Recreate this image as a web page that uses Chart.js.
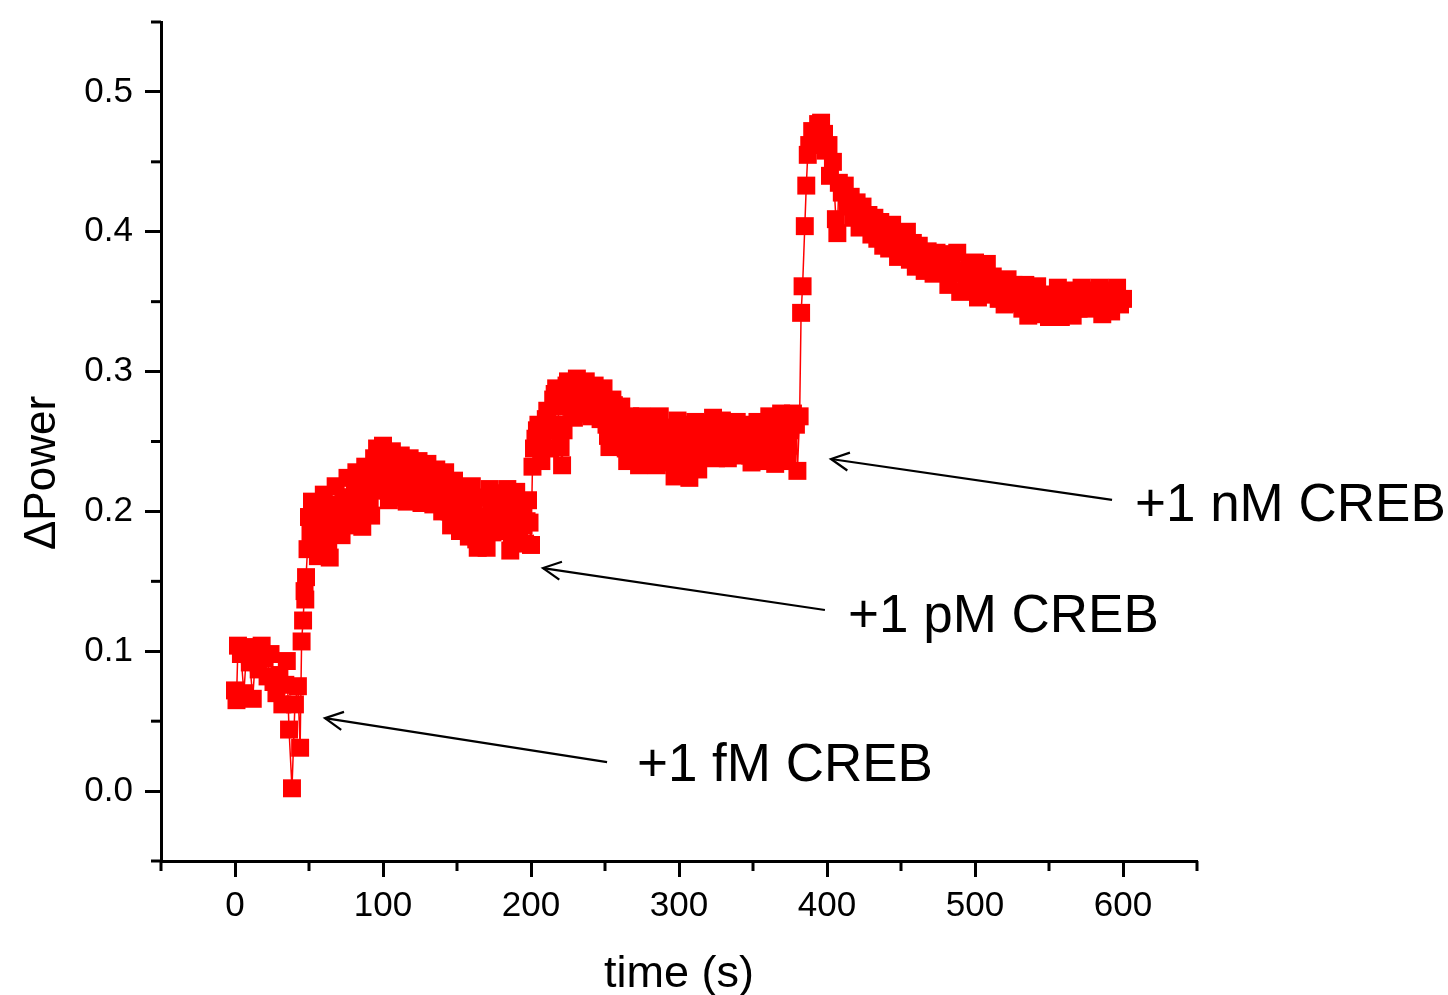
<!DOCTYPE html>
<html>
<head>
<meta charset="utf-8">
<script src="https://cdn.jsdelivr.net/npm/chart.js@4.4.1/dist/chart.umd.min.js"></script>
<style>
  html, body { margin: 0; padding: 0; background: #fff; overflow: hidden; }
  #wrap { width: 1448px; height: 1010px; }
</style>
</head>
<body>
<div id="wrap"><canvas id="powerChart" width="1448" height="1010"></canvas></div>
<script>
// data: time (s) vs ΔPower
const baseTime = [0, 1, 2, 4, 6, 8, 10, 12, 14, 16, 18, 20, 22, 24, 26, 28, 30, 32, 34, 35, 36.5, 38.5, 40.5, 42.5, 44]
const basePower = [0.072, 0.065, 0.104, 0.098, 0.070, 0.103, 0.092, 0.066, 0.100, 0.087, 0.104, 0.095, 0.082, 0.098, 0.078, 0.070, 0.083, 0.062, 0.076, 0.093, 0.044, 0.002, 0.062, 0.075, 0.031]

const fmTime = [45, 46, 47, 47.5, 48, 49, 50, 51, 52, 53, 54, 55, 56, 57, 58, 59, 60, 61, 62, 63, 64, 65, 66, 67, 68, 69, 70,
  71, 72, 73, 74, 75, 76, 77, 78, 79, 80, 81, 82, 83, 84, 85, 86, 87, 88, 89, 90, 91, 92, 93, 94, 95, 96, 97, 98, 99, 100,
  101, 102, 103, 104, 105, 106, 107, 108, 109, 110, 111, 112, 113, 114, 115, 116, 117, 118, 119, 120, 121, 122, 123, 124, 125,
  126, 127, 128, 129, 130, 131, 132, 133, 134, 135, 136, 137, 138, 139, 140, 141, 142, 143, 144, 145, 146, 147, 148, 149, 150,
  151, 152, 153, 154, 155, 156, 157, 158, 159, 160, 161, 162, 163, 164, 165, 166, 167, 168, 169, 170, 171, 172, 173, 174, 175,
  176, 177, 178, 179, 180, 181, 182, 183, 184, 185, 186, 187, 188, 189, 190, 191, 192, 193, 194, 195, 196, 197, 198, 199, 200]
const fmPower = [0.107, 0.122, 0.143, 0.137, 0.153, 0.173, 0.196, 0.185, 0.207, 0.198, 0.190, 0.180, 0.168, 0.192, 0.200, 0.188, 0.212, 0.198, 0.186, 0.178, 0.167, 0.190, 0.205, 0.196, 0.218, 0.204, 0.195,
  0.188, 0.183, 0.200, 0.210, 0.202, 0.224, 0.210, 0.190, 0.198, 0.205, 0.215, 0.228, 0.220, 0.215, 0.200, 0.189, 0.212, 0.232, 0.226, 0.222, 0.208, 0.197, 0.220, 0.238, 0.232, 0.245, 0.228, 0.215, 0.232, 0.247,
  0.236, 0.225, 0.215, 0.208, 0.228, 0.243, 0.236, 0.232, 0.220, 0.210, 0.226, 0.240, 0.230, 0.222, 0.212, 0.207, 0.224, 0.238, 0.232, 0.228, 0.220, 0.215, 0.226, 0.236, 0.220,
  0.206, 0.216, 0.225, 0.230, 0.234, 0.222, 0.212, 0.208, 0.205, 0.218, 0.230, 0.224, 0.218, 0.208, 0.200, 0.215, 0.228, 0.218, 0.210, 0.200, 0.190, 0.208, 0.222, 0.216, 0.212,
  0.198, 0.186, 0.200, 0.215, 0.202, 0.190, 0.186, 0.182, 0.200, 0.218, 0.204, 0.190, 0.180, 0.174, 0.192, 0.210, 0.195, 0.180, 0.177, 0.174, 0.196, 0.216, 0.200, 0.185, 0.195,
  0.205, 0.210, 0.213, 0.198, 0.186, 0.192, 0.200, 0.208, 0.216, 0.194, 0.172, 0.184, 0.195, 0.205, 0.214, 0.200, 0.185, 0.195, 0.205, 0.190, 0.177, 0.193, 0.208, 0.192, 0.176]

const pmTime = [201, 202, 203, 204, 205, 206, 207, 208, 209, 210, 211, 212, 213, 214, 215, 216, 217, 218, 219, 220, 221, 222, 223, 224, 225,
  226, 227, 228, 229, 230, 231, 232, 233, 234, 235, 236, 237, 238, 239, 240, 241, 242, 243, 244, 245, 246, 247, 248, 249, 250,
  251, 252, 253, 254, 255, 256, 257, 258, 259, 260, 261, 262, 263, 264, 265, 266, 267, 268, 269, 270, 271, 272, 273, 274, 275,
  276, 277, 278, 279, 280, 281, 282, 283, 284, 285, 286, 287, 288, 289, 290, 291, 292, 293, 294, 295, 296, 297, 298, 299, 300,
  301, 302, 303, 304, 305, 306, 307, 308, 309, 310, 311, 312, 313, 314, 315, 316, 317, 318, 319, 320, 321, 322, 323, 324, 325,
  326, 327, 328, 329, 330, 331, 332, 333, 334, 335, 336, 337, 338, 339, 340, 341, 342, 343, 344, 345, 346, 347, 348, 349, 350,
  351, 352, 353, 354, 355, 356, 357, 358, 359, 360, 361, 362, 363, 364, 365, 366, 367, 368, 369, 370, 371, 372, 373, 374, 375,
  376, 377, 378, 379, 380, 381.5]
const pmPower = [0.232, 0.245, 0.252, 0.258, 0.262, 0.250, 0.236, 0.246, 0.258, 0.266, 0.272, 0.258, 0.245, 0.262, 0.280, 0.284, 0.288, 0.275, 0.262, 0.246, 0.233, 0.258, 0.284, 0.290, 0.293,
  0.284, 0.275, 0.271, 0.267, 0.282, 0.295, 0.290, 0.285, 0.278, 0.270, 0.282, 0.293, 0.287, 0.280, 0.274, 0.268, 0.279, 0.290, 0.283, 0.276, 0.271, 0.266, 0.277, 0.288, 0.275,
  0.262, 0.254, 0.246, 0.263, 0.280, 0.276, 0.272, 0.261, 0.250, 0.262, 0.275, 0.265, 0.255, 0.245, 0.236, 0.252, 0.268, 0.256, 0.245, 0.253, 0.262, 0.248, 0.233, 0.250, 0.268,
  0.260, 0.252, 0.246, 0.240, 0.253, 0.266, 0.258, 0.250, 0.241, 0.233, 0.250, 0.268, 0.258, 0.248, 0.254, 0.260, 0.248, 0.235, 0.245, 0.256, 0.240, 0.225, 0.245, 0.265, 0.255,
  0.245, 0.240, 0.236, 0.249, 0.262, 0.243, 0.224, 0.237, 0.250, 0.257, 0.264, 0.247, 0.230, 0.242, 0.255, 0.259, 0.263, 0.251, 0.240, 0.249, 0.258, 0.262, 0.267, 0.252, 0.238,
  0.245, 0.252, 0.258, 0.265, 0.255, 0.245, 0.241, 0.238, 0.250, 0.262, 0.256, 0.250, 0.257, 0.264, 0.252, 0.240, 0.247, 0.255, 0.258, 0.262, 0.253, 0.245, 0.240, 0.235, 0.246,
  0.258, 0.261, 0.264, 0.253, 0.242, 0.239, 0.236, 0.245, 0.255, 0.261, 0.268, 0.258, 0.248, 0.241, 0.234, 0.248, 0.262, 0.266, 0.270, 0.260, 0.250, 0.243, 0.236, 0.247, 0.258,
  0.264, 0.270, 0.266, 0.262, 0.229, 0.268]

const nmTime = [382.5, 383.5, 385, 386, 387, 388, 390, 392, 394, 396, 398, 399, 401, 402, 404, 406, 407, 408, 410, 412, 414, 416, 418, 420,
  422, 424, 426, 428, 430, 432, 434, 436, 438, 440, 442, 444, 446, 448, 450, 452, 454, 456, 458, 460, 462, 464, 466, 468, 470,
  472, 474, 476, 478, 480, 482, 484, 486, 488, 490, 492, 494, 496, 498, 500, 502, 504, 506, 508, 510, 512, 514, 516, 518, 520,
  522, 524, 526, 528, 530, 532, 534, 536, 538, 540, 542, 544, 546, 548, 550, 552, 554, 556, 558, 560, 562, 564, 566, 568, 570,
  572, 574, 576, 578, 580, 582, 584, 586, 588, 590, 592, 594, 596, 598, 600]
const nmPower = [0.342, 0.361, 0.404, 0.433, 0.455, 0.462, 0.472, 0.468, 0.477, 0.478, 0.470, 0.458, 0.462, 0.440, 0.450, 0.409, 0.399, 0.435, 0.428, 0.433, 0.418, 0.425, 0.410, 0.421,
  0.403, 0.418, 0.406, 0.412, 0.398, 0.410, 0.395, 0.407, 0.390, 0.400, 0.388, 0.405, 0.392, 0.382, 0.398, 0.388, 0.400, 0.380, 0.392, 0.375, 0.390, 0.382, 0.372, 0.386, 0.378,
  0.370, 0.385, 0.372, 0.384, 0.375, 0.362, 0.380, 0.370, 0.385, 0.357, 0.372, 0.365, 0.375, 0.360, 0.378, 0.353, 0.370, 0.362, 0.377, 0.355, 0.368, 0.360, 0.352, 0.365, 0.348,
  0.366, 0.355, 0.362, 0.349, 0.358, 0.345, 0.362, 0.340, 0.355, 0.348, 0.361, 0.341, 0.355, 0.350, 0.339, 0.355, 0.345, 0.360, 0.339, 0.352, 0.346, 0.358, 0.340, 0.354, 0.345,
  0.360, 0.350, 0.345, 0.358, 0.350, 0.346, 0.360, 0.341, 0.354, 0.358, 0.343, 0.352, 0.360, 0.348, 0.352]

const xMajor = [0, 100, 200, 300, 400, 500, 600]
const xMinor = [-50, 50, 150, 250, 350, 450, 550, 650]
const yMajor = [0.0, 0.1, 0.2, 0.3, 0.4, 0.5]
const yMinor = [-0.05, 0.05, 0.15, 0.25, 0.35, 0.45, 0.55]

// arrows: [label, tailX, tailY, tipX, tipY, textX, textY]
const notes = [
  ['+1 fM CREB', 251.4, 0.0207, 60.8, 0.0522, 271.6, 0.0072],
  ['+1 pM CREB', 398.6, 0.1295, 208.1, 0.1595, 414.2, 0.1137],
  ['+1 nM CREB', 592.6, 0.2082, 402.7, 0.2375, 608.1, 0.1931]
]

function toPoints(times, values) {
  return times.map((t, i) => ({x: t, y: values[i]}))
}

const points = [].concat(
  toPoints(baseTime, basePower),
  toPoints(fmTime, fmPower),
  toPoints(pmTime, pmPower),
  toPoints(nmTime, nmPower)
)

const FONT = 'Arial, "Liberation Sans", sans-serif'

const extras = {
  id: 'extras',
  afterDraw(chart) {
    const {ctx} = chart
    const x = chart.scales.x
    const y = chart.scales.y
    ctx.save()
    ctx.strokeStyle = '#000'
    ctx.lineWidth = 3
    // minor ticks
    xMinor.forEach(v => {
      const px = x.getPixelForValue(v)
      ctx.beginPath(); ctx.moveTo(px, y.bottom); ctx.lineTo(px, y.bottom + 10); ctx.stroke()
    })
    yMinor.forEach(v => {
      const py = y.getPixelForValue(v)
      ctx.beginPath(); ctx.moveTo(x.left, py); ctx.lineTo(x.left - 10, py); ctx.stroke()
    })
    // arrows + labels
    ctx.lineWidth = 2.2
    ctx.fillStyle = '#000'
    ctx.font = '53px ' + FONT
    ctx.textAlign = 'left'
    ctx.textBaseline = 'alphabetic'
    notes.forEach(n => {
      const x0 = x.getPixelForValue(n[1]), y0 = y.getPixelForValue(n[2])
      const x1 = x.getPixelForValue(n[3]), y1 = y.getPixelForValue(n[4])
      const a = Math.atan2(y0 - y1, x0 - x1)
      ctx.beginPath(); ctx.moveTo(x0, y0); ctx.lineTo(x1, y1); ctx.stroke()
      ctx.beginPath()
      ctx.moveTo(x1 + 20 * Math.cos(a - 0.47), y1 + 20 * Math.sin(a - 0.47))
      ctx.lineTo(x1, y1)
      ctx.lineTo(x1 + 20 * Math.cos(a + 0.47), y1 + 20 * Math.sin(a + 0.47))
      ctx.stroke()
      ctx.fillText(n[0], x.getPixelForValue(n[5]), y.getPixelForValue(n[6]))
    })
    // y title
    ctx.translate(55, y.getPixelForValue(0.2275))
    ctx.rotate(-Math.PI / 2)
    ctx.textAlign = 'center'
    ctx.font = '44px ' + FONT
    ctx.fillText('\u0394Power', 0, 0)
    ctx.restore()
  }
}

const config = {
  type: 'scatter',
  data: {
    datasets: [{
      data: points,
      showLine: true,
      borderColor: '#ff0000',
      borderWidth: 1.5,
      backgroundColor: '#ff0000',
      pointStyle: 'rect',
      pointRadius: 12.7,
      pointBorderWidth: 0,
      pointHoverRadius: 12.7
    }]
  },
  options: {
    responsive: false,
    animation: false,
    devicePixelRatio: 1,
    events: [],
    layout: { padding: { top: 22, right: 251, left: 0, bottom: 0 } },
    plugins: { legend: { display: false }, tooltip: { enabled: false } },
    scales: {
      x: {
        type: 'linear',
        min: -50,
        max: 650,
        afterBuildTicks: s => { s.ticks = xMajor.map(v => ({value: v})) },
        afterFit: s => { s.height = 149; s.paddingLeft = 0; s.paddingRight = 0 },
        border: { display: true, color: '#000', width: 3 },
        grid: { drawOnChartArea: false, drawTicks: true, tickLength: 16, tickWidth: 3, tickColor: '#000' },
        ticks: { color: '#000', font: { size: 35, family: FONT }, padding: 8, maxRotation: 0, callback: v => String(v) },
        title: { display: true, text: 'time (s)', color: '#000', font: { size: 45, family: FONT }, padding: { top: 0, bottom: 8 } }
      },
      y: {
        type: 'linear',
        min: -0.05,
        max: 0.55,
        afterBuildTicks: s => { s.ticks = yMajor.map(v => ({value: v})) },
        afterFit: s => { s.width = 161; s.paddingTop = 0; s.paddingBottom = 0 },
        border: { display: true, color: '#000', width: 3 },
        grid: { drawOnChartArea: false, drawTicks: true, tickLength: 16, tickWidth: 3, tickColor: '#000' },
        ticks: { color: '#000', font: { size: 35, family: FONT }, padding: 12, callback: v => v.toFixed(1) }
      }
    }
  },
  plugins: [extras]
}

const powerChart = new Chart(document.querySelector('#powerChart'), config)
</script>
</body>
</html>
